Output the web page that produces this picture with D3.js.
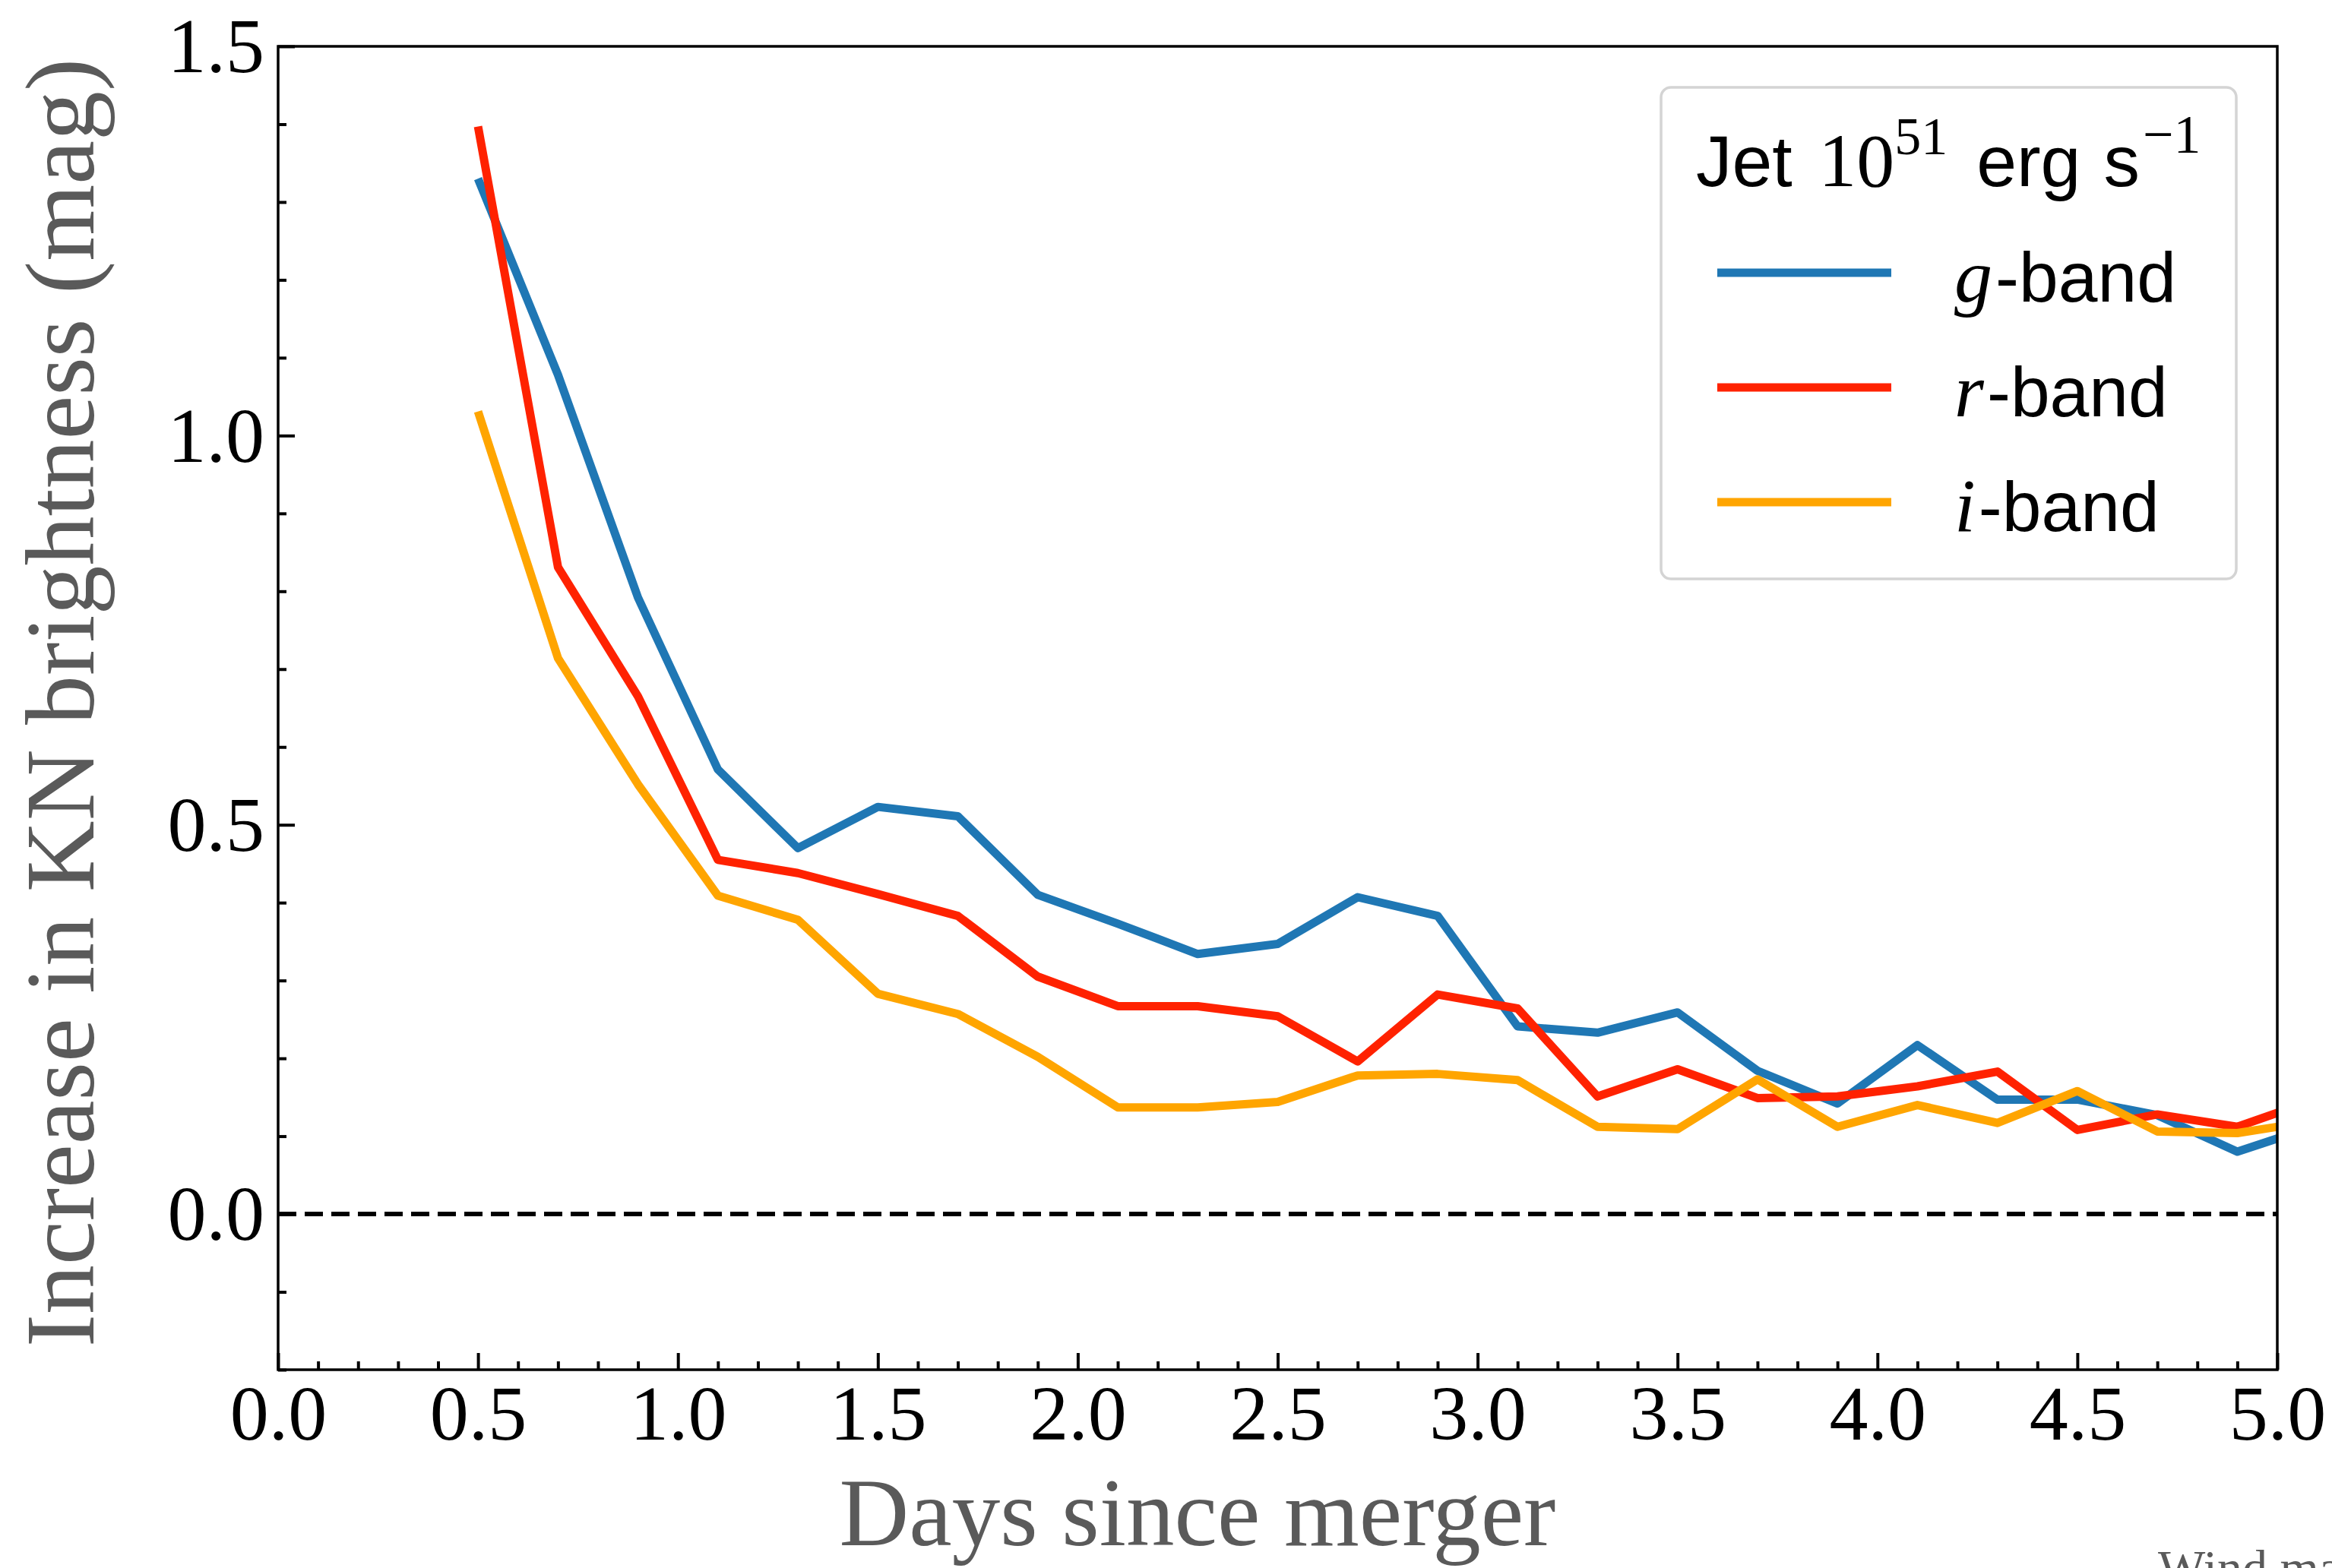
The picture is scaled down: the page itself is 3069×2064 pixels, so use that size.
<!DOCTYPE html>
<html>
<head>
<meta charset="utf-8">
<script src="https://cdn.jsdelivr.net/npm/d3@7"></script>
<style>
  html, body { margin: 0; padding: 0; background: #ffffff; }
  svg { display: block; }
</style>
</head>
<body>
<script>
// ---------------- data ----------------
const days   = [0.5, 0.7, 0.9, 1.1, 1.3, 1.5, 1.7, 1.9, 2.1, 2.3, 2.5, 2.7, 2.9, 3.1, 3.3, 3.5, 3.7, 3.9, 4.1, 4.3, 4.5, 4.7, 4.9, 5.1];
const gBand  = [1.330, 1.078, 0.792, 0.571, 0.470, 0.523, 0.511, 0.410, 0.373, 0.334, 0.347, 0.407, 0.383, 0.241, 0.233, 0.259, 0.184, 0.142, 0.217, 0.147, 0.147, 0.127, 0.080, 0.114];
const rBand  = [1.397, 0.831, 0.665, 0.455, 0.438, 0.411, 0.383, 0.305, 0.267, 0.267, 0.254, 0.196, 0.282, 0.264, 0.151, 0.186, 0.149, 0.151, 0.164, 0.183, 0.108, 0.128, 0.112, 0.148];
const iBand  = [1.031, 0.714, 0.552, 0.409, 0.378, 0.283, 0.257, 0.202, 0.137, 0.137, 0.144, 0.178, 0.180, 0.172, 0.112, 0.109, 0.173, 0.112, 0.140, 0.117, 0.158, 0.106, 0.104, 0.120];
const seriesNames  = ["g", "r", "i"];
const seriesColors = ["#1f77b4", "#ff2200", "#ffa500"];
const xMajorTicks = [0.0, 0.5, 1.0, 1.5, 2.0, 2.5, 3.0, 3.5, 4.0, 4.5, 5.0];
const yMajorTicks = [0.0, 0.5, 1.0, 1.5];
const xLabel = "Days since merger";
const yLabel = "Increase in KN brightness (mag)";

// ---------------- layout ----------------
const W = 3069, H = 2064;
const L = 366, R = 2997, T = 61, B = 1803;

const svg = d3.select("body").append("svg")
  .attr("width", W).attr("height", H)
  .attr("viewBox", `0 0 ${W} ${H}`);

const x = d3.scaleLinear().domain([0, 5]).range([L, R]);
const y = d3.scaleLinear().domain([-0.2, 1.5]).range([B, T]);

const serif = "'Liberation Serif', 'Times New Roman', serif";
const sans  = "'Liberation Sans', Arial, sans-serif";

// clip
svg.append("defs").append("clipPath").attr("id", "plotclip")
  .append("rect").attr("x", L).attr("y", T).attr("width", R - L).attr("height", B - T);

// zero line (dashed)
svg.append("line")
  .attr("x1", x(0)).attr("x2", x(5))
  .attr("y1", y(0)).attr("y2", y(0))
  .attr("stroke", "#000").attr("stroke-width", 6)
  .attr("stroke-dasharray", "24 11");

// series lines
const seriesData = [gBand, rBand, iBand];
const line = d3.line().x((d, i) => x(days[i])).y(d => y(d));
const gLines = svg.append("g").attr("clip-path", "url(#plotclip)");
seriesData.forEach((vals, k) => {
  gLines.append("path")
    .datum(vals)
    .attr("d", line)
    .attr("fill", "none")
    .attr("stroke", seriesColors[k])
    .attr("stroke-width", 11)
    .attr("stroke-linejoin", "round")
    .attr("stroke-linecap", "butt");
});

// axes: minor ticks
const xMinor = d3.range(0, 5.0001, 0.1).map(v => +v.toFixed(1)).filter(v => !xMajorTicks.some(m => Math.abs(m - v) < 1e-6));
const yMinor = d3.range(-0.2, 1.5001, 0.1).map(v => +v.toFixed(1)).filter(v => !yMajorTicks.some(m => Math.abs(m - v) < 1e-6));

const axXMinor = svg.append("g").attr("transform", `translate(0,${B})`)
  .call(d3.axisBottom(x).tickValues(xMinor).tickSize(-11).tickFormat(""));
const axYMinor = svg.append("g").attr("transform", `translate(${L},0)`)
  .call(d3.axisLeft(y).tickValues(yMinor).tickSize(-11).tickFormat(""));

const axX = svg.append("g").attr("transform", `translate(0,${B})`)
  .call(d3.axisBottom(x).tickValues(xMajorTicks).tickSize(-22).tickFormat(d3.format(".1f")));
const axY = svg.append("g").attr("transform", `translate(${L},0)`)
  .call(d3.axisLeft(y).tickValues(yMajorTicks).tickSize(-22).tickFormat(d3.format(".1f")));

[axXMinor, axYMinor, axX, axY].forEach(a => {
  a.select(".domain").remove();
  a.selectAll(".tick line").attr("stroke", "#000").attr("stroke-width", 4);
});
axX.selectAll(".tick text")
  .attr("y", 92).attr("dy", null)
  .attr("font-family", serif).attr("font-size", 102).attr("fill", "#000");
axY.selectAll(".tick text")
  .attr("x", -18).attr("dy", "0.33em")
  .attr("font-family", serif).attr("font-size", 102).attr("fill", "#000");

// frame
svg.append("rect")
  .attr("x", L).attr("y", T).attr("width", R - L).attr("height", B - T)
  .attr("fill", "none").attr("stroke", "#000").attr("stroke-width", 3.5);

// axis labels
svg.append("text")
  .attr("x", 1576).attr("y", 2034)
  .attr("text-anchor", "middle")
  .attr("font-family", serif).attr("font-size", 127)
  .attr("fill", "#5a5a5a")
  .text(xLabel);

svg.append("text")
  .attr("transform", `translate(123,925) rotate(-90)`)
  .attr("text-anchor", "middle")
  .attr("font-family", serif).attr("font-size", 130)
  .attr("fill", "#5a5a5a")
  .text(yLabel);

// stray caption fragment at bottom right (cut by the page edge, as in the reference)
svg.append("text")
  .attr("x", 2840).attr("y", 2086)
  .attr("font-family", serif).attr("font-size", 66)
  .attr("fill", "#5a5a5a")
  .text("Wind ma");

// ---------------- legend ----------------
const lg = svg.append("g");
lg.append("rect")
  .attr("x", 2186).attr("y", 115).attr("width", 757).attr("height", 647)
  .attr("rx", 13).attr("ry", 13)
  .attr("fill", "#ffffff").attr("fill-opacity", 0.8)
  .attr("stroke", "#d4d4d4").attr("stroke-width", 3.5);

const title = lg.append("text").attr("x", 2232).attr("y", 245).attr("fill", "#000");
title.append("tspan").attr("font-family", sans).attr("font-size", 95).text("Jet ");
title.append("tspan").attr("font-family", serif).attr("font-size", 100).attr("dx", 8).text("10");
title.append("tspan").attr("font-family", serif).attr("font-size", 70).attr("dy", -42).text("51");
title.append("tspan").attr("font-family", sans).attr("font-size", 95).attr("dy", 42).attr("dx", 38).text("erg");
title.append("tspan").attr("font-family", sans).attr("font-size", 95).attr("dx", 30).text("s");
title.append("tspan").attr("font-family", serif).attr("font-size", 72).attr("dy", -44).attr("dx", 4).text("\u22121");

const entryY = [359, 510, 661];
seriesNames.forEach((nm, k) => {
  lg.append("line")
    .attr("x1", 2260).attr("x2", 2489)
    .attr("y1", entryY[k]).attr("y2", entryY[k])
    .attr("stroke", seriesColors[k]).attr("stroke-width", 11);
  const t = lg.append("text").attr("x", 2572).attr("y", entryY[k] + 38).attr("fill", "#000");
  t.append("tspan").attr("font-family", serif).attr("font-style", "italic").attr("font-size", 100).text(nm);
  t.append("tspan").attr("font-family", sans).attr("font-size", 93).attr("dx", 4).text("-band");
});
</script>
</body>
</html>
